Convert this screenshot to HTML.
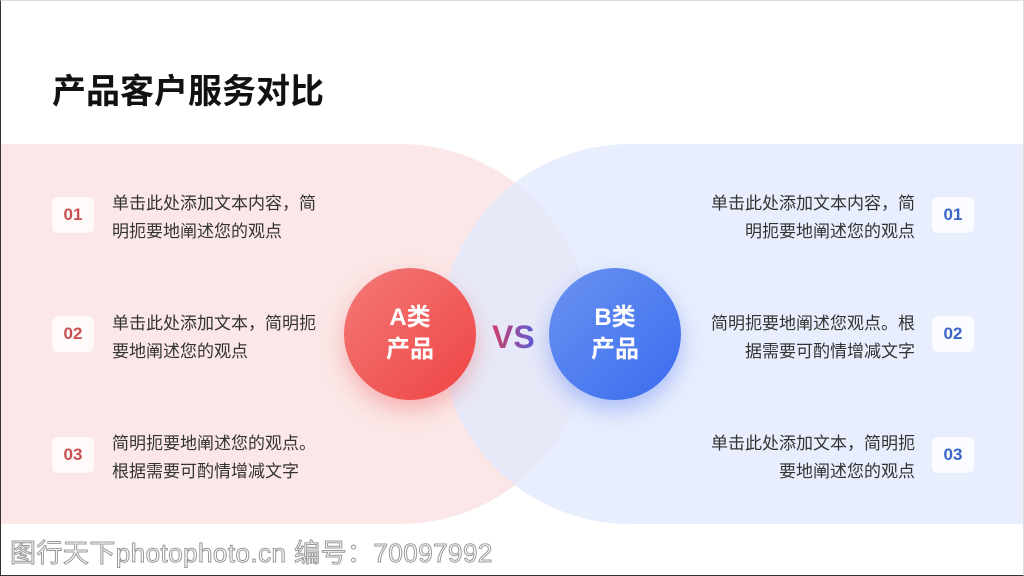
<!DOCTYPE html><html><head><meta charset="utf-8"><style>
body{margin:0;width:1024px;height:576px;overflow:hidden;background:#fff;position:relative;font-family:"Liberation Sans","Noto Sans CJK SC",sans-serif}
.a{position:absolute}
.frame{left:0;top:0;width:1022px;height:574px;border:1px solid #333;border-top-color:#ddd;border-right-color:#ddd;box-sizing:content-box}
.t{font-size:17px;line-height:28px;color:#333}
.b{width:42px;height:36px;background:rgba(255,255,255,.8);border-radius:6px;font-weight:bold;font-size:17px;text-align:center;line-height:36px}
.c{width:132px;height:132px;border-radius:50%;color:#fff;font-weight:bold;font-size:24px;line-height:32px;text-align:center;display:flex;align-items:center;justify-content:center}
</style></head><body>
<div class="a" style="left:0;top:144px;width:590px;height:380px;background:#fbe7e7;border-radius:0 190px 190px 0"></div>
<div class="a" style="left:440px;top:144px;width:584px;height:380px;background:rgba(226,234,252,.8);border-radius:190px 0 0 190px"></div>
<div class="a" style="left:52px;top:64px;font-size:34px;font-weight:bold;color:#111">产品客户服务对比</div>
<div class="a b" style="left:52px;top:197px;color:#c9504f">01</div>
<div class="a b" style="left:52px;top:316px;color:#c9504f">02</div>
<div class="a b" style="left:52px;top:437px;color:#c9504f">03</div>
<div class="a b" style="left:932px;top:197px;color:#3a64c8">01</div>
<div class="a b" style="left:932px;top:316px;color:#3a64c8">02</div>
<div class="a b" style="left:932px;top:437px;color:#3a64c8">03</div>
<div class="a t" style="left:112px;top:190px">单击此处添加文本内容，简<br>明扼要地阐述您的观点</div>
<div class="a t" style="left:112px;top:310px">单击此处添加文本，简明扼<br>要地阐述您的观点</div>
<div class="a t" style="left:112px;top:430px">简明扼要地阐述您的观点。<br>根据需要可酌情增减文字</div>
<div class="a t" style="right:109px;top:190px;text-align:right">单击此处添加文本内容，简<br>明扼要地阐述您的观点</div>
<div class="a t" style="right:109px;top:310px;text-align:right">简明扼要地阐述您观点。根<br>据需要可酌情增减文字</div>
<div class="a t" style="right:109px;top:430px;text-align:right">单击此处添加文本，简明扼<br>要地阐述您的观点</div>
<div class="a c" style="left:344px;top:268px;background:linear-gradient(135deg,#f27a78,#ef4444);box-shadow:0 10px 22px rgba(239,80,80,.35)">A类<br>产品</div>
<div class="a c" style="left:549px;top:268px;background:linear-gradient(135deg,#6a93f0,#3a6bef);box-shadow:0 10px 22px rgba(60,100,240,.35)">B类<br>产品</div>
<div class="a" style="left:492px;top:319px;font-size:32px;font-weight:bold;line-height:36px;background:linear-gradient(90deg,#d0406a,#5b5bd6);-webkit-background-clip:text;color:transparent">VS</div>
<div class="a" style="left:10px;top:533px;font-size:26px;color:#fff;-webkit-text-stroke:1px #999;letter-spacing:0.45px">图行天下photophoto.cn 编号：70097992</div>
<div class="a frame"></div>
</body></html>
